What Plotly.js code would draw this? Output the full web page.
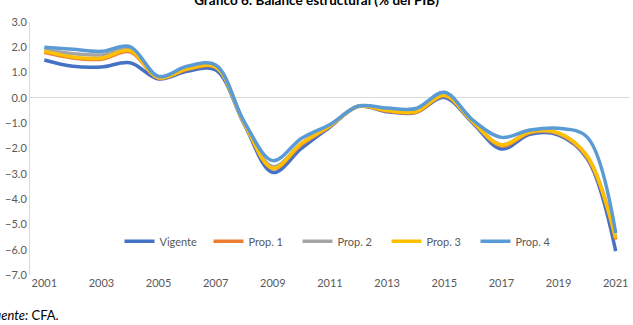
<!DOCTYPE html>
<html>
<head>
<meta charset="utf-8">
<script src="https://cdn.plot.ly/plotly-3.0.1.min.js"></script>
<style>html,body{margin:0;padding:0;background:#fff;} #chart{width:633px;height:325px;}</style>
</head>
<body>
<div id="chart"></div>
<script>
const years = [2001,2002,2003,2004,2005,2006,2007,2008,2009,2010,2011,2012,2013,2014,2015,2016,2017,2018,2019,2020,2021];
const tickYears = [2001,2003,2005,2007,2009,2011,2013,2015,2017,2019,2021];
const vigente = [1.5, 1.25, 1.22, 1.39, 0.75, 1.05, 1.1, -1.05, -2.95, -2.0, -1.15, -0.33, -0.55, -0.58, 0.02, -1.0, -2.02, -1.44, -1.47, -2.4, -6.06];
const prop1 = [1.8, 1.58, 1.53, 1.82, 0.78, 1.12, 1.2, -1.0, -2.8, -1.85, -1.12, -0.33, -0.52, -0.57, 0.08, -0.95, -1.9, -1.38, -1.42, -2.35, -5.6];
const prop2 = [1.9, 1.75, 1.7, 1.95, 0.8, 1.15, 1.22, -1.0, -2.72, -1.8, -1.1, -0.32, -0.48, -0.5, 0.15, -0.92, -1.85, -1.35, -1.4, -2.3, -5.5];
const prop3 = [1.85, 1.62, 1.57, 1.87, 0.8, 1.15, 1.22, -1.0, -2.78, -1.8, -1.1, -0.33, -0.5, -0.55, 0.1, -0.95, -1.86, -1.34, -1.38, -2.3, -5.54];
const prop4 = [2.0, 1.92, 1.84, 2.03, 0.85, 1.25, 1.3, -0.95, -2.48, -1.6, -1.05, -0.32, -0.4, -0.42, 0.22, -0.88, -1.56, -1.27, -1.2, -1.55, -5.34];

const names = ['Vigente','Prop. 1','Prop. 2','Prop. 3','Prop. 4'];
const series = [vigente, prop1, prop2, prop3, prop4];
const colors = ['#4472C4','#ED7D31','#A5A5A5','#FFC000','#5B9BD5'];

const traces = series.map((s,i) => ({
  x: years, y: s, name: names[i], type: 'scatter', mode: 'lines',
  line: {color: colors[i], width: 3.5, shape: 'spline', smoothing: 1}
}));

const FONT = 'Lato, "Liberation Sans", sans-serif';
const layout = {
  width: 633, height: 325,
  margin: {l: 30, r: 3, t: 21.5, b: 49.5},
  paper_bgcolor: '#fff', plot_bgcolor: '#fff',
  font: {family: FONT, size: 11, color: '#595959'},
  title: {text: 'Gráfico 6: Balance estructural (% del PIB)', font: {family: FONT, size: 13.5, color: '#000', weight: 'bold'},
          x: 0.5, xanchor: 'center', y: 0.998, yref: 'container', yanchor: 'middle'},
  xaxis: {range: [2000.5, 2021.5], tickvals: tickYears, ticktext: tickYears.map(String),
          showgrid: false, zeroline: false, showline: false, ticks: '', ticklen: 0,
          tickfont: {family: FONT, size: 11, color: '#595959'}, fixedrange: true},
  yaxis: {range: [-7, 3], dtick: 1, tickformat: '.1f', showgrid: false,
          zeroline: true, zerolinecolor: '#D9D9D9', zerolinewidth: 1,
          showline: true, linecolor: '#D9D9D9', linewidth: 1, ticks: '',
          tickfont: {family: FONT, size: 11, color: '#595959'}, fixedrange: true},
  legend: {orientation: 'h', x: 0.52, xanchor: 'center', y: 0.133, yanchor: 'middle',
           bgcolor: 'rgba(0,0,0,0)', entrywidth: 44, traceorder: 'normal',
           font: {family: FONT, size: 11, color: '#595959'}},
  annotations: [{text: '<i>Fuente:</i> CFA.', xref: 'paper', yref: 'paper', x: -0.0733, y: -0.159,
                 xanchor: 'left', yanchor: 'middle', showarrow: false,
                 font: {family: FONT, size: 13, color: '#000'}}]
};

Plotly.newPlot('chart', traces, layout, {staticPlot: true, displayModeBar: false});
</script>
</body>
</html>
